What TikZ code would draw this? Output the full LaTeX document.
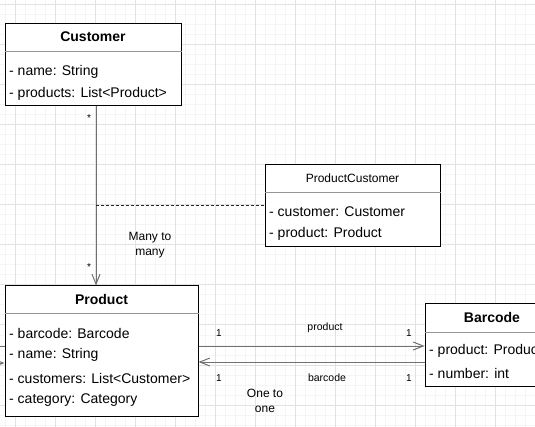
\documentclass[tikz,border=0pt]{standalone}
\usepackage{fontspec}
\setmainfont{Liberation Sans}
\usepackage{tikz}
\usetikzlibrary{arrows.meta, positioning, calc}
\definecolor{gridmajor}{RGB}{226,226,226}
\definecolor{gridminor}{RGB}{245,245,245}
\definecolor{mylink}{RGB}{112,112,112}
\definecolor{mysep}{RGB}{150,150,150}
\tikzset{
  classbox/.style={rectangle, draw=black, fill=white, line width=1pt, inner sep=0pt},
  classname/.style={font=\fontsize{14}{16}\selectfont\bfseries, inner sep=0pt},
  plainname/.style={font=\fontsize{12}{14}\selectfont, inner sep=0pt},
  attr/.style={anchor=west, font=\fontsize{14}{16}\selectfont, inner sep=0pt},
  sep/.style={draw=mysep, line width=1pt},
  assoc/.style={-{Straight Barb[length=10pt, width=8pt]}, draw=mylink, line width=1pt},
  link/.style={draw=mylink, line width=1pt},
  dashlink/.style={draw=black!85, line width=1pt, dash pattern=on 3pt off 2pt},
  mult/.style={font=\fontsize{10}{12}\selectfont, inner sep=0pt},
  rolelabel/.style={font=\fontsize{10.5}{12}\selectfont, inner sep=0pt},
  note/.style={font=\fontsize{12}{15}\selectfont, align=center, inner sep=0pt}
}

\begin{document}
\begin{tikzpicture}[x=1pt, y=-1pt]
  \useasboundingbox (0,0) rectangle (535,427);
  \clip (0,0) rectangle (535,427);

  % Grid
  \foreach \gx in {5,15,...,535} \draw[gridminor, line width=1pt] (\gx,0) -- (\gx,427);
  \foreach \gy in {5,15,...,425} \draw[gridminor, line width=1pt] (0,\gy) -- (535,\gy);
  \foreach \gx in {15,55,...,535} \draw[gridmajor, line width=1pt] (\gx,0) -- (\gx,427);
  \foreach \gy in {5,45,...,425} \draw[gridmajor, line width=1pt] (0,\gy) -- (535,\gy);

  % Customer
  \node[classbox, minimum width=176pt, minimum height=82pt] (customer) at (93,65) {};
  \draw[sep] (customer.west |- 0,52) -- (customer.east |- 0,52);
  \node[classname] (customertitle) at (93,37) {Customer};
  \node[attr] (customername) at (9,72) {- name: String};
  \node[attr] (customerproducts) at (9,94) {- products: List<Product>};

  % ProductCustomer
  \node[classbox, minimum width=175pt, minimum height=82pt] (prodcust) at (352.5,206) {};
  \draw[sep] (prodcust.west |- 0,193) -- (prodcust.east |- 0,193);
  \node[plainname] (prodcusttitle) at (352.5,178) {ProductCustomer};
  \node[attr] (prodcustcustomer) at (269,212) {- customer: Customer};
  \node[attr] (prodcustproduct) at (269,234) {- product: Product};

  % Product
  \node[classbox, minimum width=193pt, minimum height=130pt] (product) at (101.5,351) {};
  \draw[sep] (product.west |- 0,314) -- (product.east |- 0,314);
  \node[classname] (producttitle) at (101.5,299) {Product};
  \node[attr] (productbarcode) at (9,333) {- barcode: Barcode};
  \node[attr] (productname) at (9,355) {- name: String};
  \node[attr] (productcustomers) at (9,378) {- customers: List<Customer>};
  \node[attr] (productcategory) at (9,400) {- category: Category};

  % Barcode
  \node[classbox, minimum width=134pt, minimum height=82pt] (barcode) at (492,345) {};
  \draw[sep] (barcode.west |- 0,332) -- (barcode.east |- 0,332);
  \node[classname] (barcodetitle) at (492,317) {Barcode};
  \node[attr] (barcodeproduct) at (429,351) {- product: Product};
  \node[attr] (barcodenumber) at (429,373) {- number: int};

  % Many to many
  \coordinate (manytop) at (96,106);
  \coordinate (manymid) at (96,206);
  \draw[assoc] (manytop) -- (product.north -| manytop);
  \draw[dashlink] (manymid) -- (prodcust.west |- manymid);
  \node[mult] (starcust) at (89,118) {*};
  \node[mult] (starprod) at (89,267) {*};
  \node[note] (manynote) at (150,245) {Many to\\many};

  % One to one
  \draw[assoc] (product.east |- 0,346) -- (barcode.west |- 0,346);
  \draw[assoc] (barcode.west |- 0,362) -- (product.east |- 0,362);
  \node[rolelabel] (rolproduct) at (325,328) {product};
  \node[rolelabel] (rolbarcode) at (327,378) {barcode};
  \node[mult] (m1a) at (219,333) {1};
  \node[mult] (m1b) at (409,333) {1};
  \node[mult] (m1c) at (219,378) {1};
  \node[mult] (m1d) at (409,378) {1};
  \node[note] (onenote) at (265,401) {One to\\one};

  % links from the left
  \coordinate (lefta) at (-30,346);
  \coordinate (leftb) at (-30,363);
  \draw[link] (lefta) -- (product.west |- lefta);
  \draw[assoc] (leftb) -- (product.west |- leftb);
\end{tikzpicture}
\end{document}
